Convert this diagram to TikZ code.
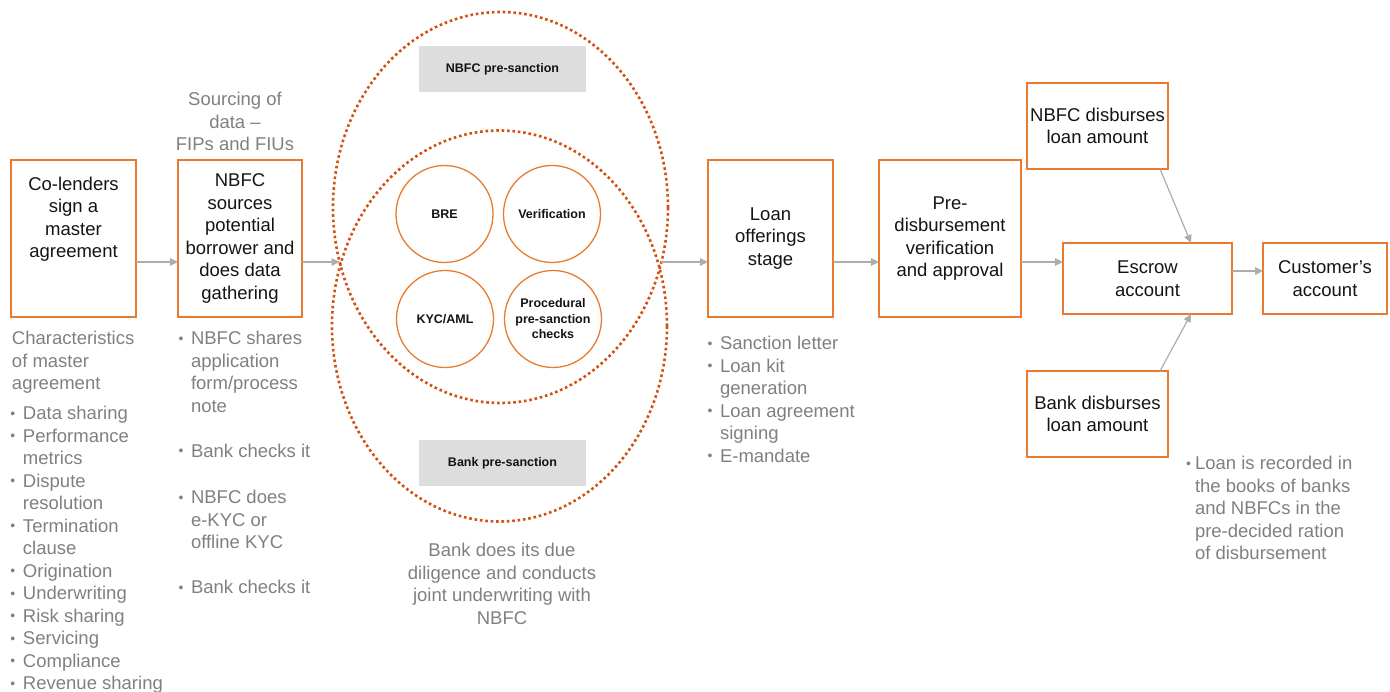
\documentclass[tikz,border=0pt]{standalone}
\usepackage{fontspec}
\setmainfont{Liberation Sans}
\usetikzlibrary{arrows.meta,shapes.geometric}
\definecolor{boxor}{RGB}{231,124,48}
\definecolor{dotor}{RGB}{212,80,16}
\definecolor{graytxt}{RGB}{128,128,128}
\definecolor{arrgray}{RGB}{172,172,172}
\definecolor{tagfill}{RGB}{221,221,221}
\definecolor{blacktxt}{RGB}{20,20,20}
\newcommand{\bl}{\makebox[11pt][l]{\hspace*{-1.5pt}\raisebox{1.5pt}{\scalebox{0.75}{\textbullet}}}}
\newcommand{\ind}{\hspace*{11pt}}
\newcommand{\fst}{\rule{0pt}{15pt}}
\newcommand{\bigf}{\fontsize{18.5pt}{22.5pt}\selectfont}
\newcommand{\smallbf}{\fontsize{12.5pt}{15.5pt}\selectfont\bfseries}
\begin{document}
\begin{tikzpicture}[x=1pt,y=-1pt,
  every node/.style={inner sep=0pt,outer sep=0pt},
  boxn/.style={draw=boxor,line width=1.4pt,rectangle,align=center,font=\bigf,text=blacktxt},
  circn/.style={draw=boxor,line width=1.3pt,circle,minimum size=97pt,align=center,font=\smallbf,text=blacktxt},
  tagn/.style={fill=tagfill,rectangle,minimum width=167pt,minimum height=46pt,font=\smallbf,text=blacktxt},
  elln/.style={draw=dotor,line width=2.6pt,dash pattern=on 2.6pt off 2.8pt,ellipse,minimum width=335pt,minimum height=391pt},
  grayn/.style={font=\bigf,text=graytxt},
  arr/.style={draw=arrgray,line width=1.2pt,-{Triangle[length=8pt,width=7.5pt]}}
]
\useasboundingbox (0,0) rectangle (1390,692);

% main boxes
\node[boxn,minimum width=125pt,minimum height=157pt] (b1) at (73.5,238.5) {};
\node[font=\bigf,text=blacktxt,align=center] (t1) at (73.5,219) {Co-lenders\\sign a\\master\\agreement};
\node[boxn,minimum width=124pt,minimum height=157pt] (b2) at (240,238.5) {NBFC\\sources\\potential\\borrower and\\does data\\gathering};
\node[boxn,minimum width=125pt,minimum height=157pt] (b3) at (770.5,238.5) {Loan\\offerings\\stage};
\node[boxn,minimum width=142pt,minimum height=157pt] (b4) at (950,238.5) {Pre-\\disbursement\\verification\\and approval};
\node[boxn,minimum width=141pt,minimum height=86pt] (b5) at (1097.5,126) {NBFC disburses\\loan amount};
\node[boxn,minimum width=141pt,minimum height=86pt] (b6) at (1097.5,414) {Bank disburses\\loan amount};
\node[boxn,minimum width=169pt,minimum height=71pt] (b7) at (1147.5,278.5) {Escrow\\account};
\node[boxn,minimum width=124pt,minimum height=71pt] (b8) at (1325,278.5) {Customer’s\\account};

% circles
\node[circn] (c1) at (444.5,214) {BRE};
\node[circn] (c2) at (552,214) {Verification};
\node[circn] (c3) at (445,319) {KYC/AML};
\node[circn] (c4) at (553,319) {Procedural\\pre-sanction\\checks};

% tags
\node[tagn] (tg1) at (502.5,69) {NBFC pre-sanction};
\node[tagn] (tg2) at (502.5,463) {Bank pre-sanction};

% dotted ellipses
\node[elln] (ellA) at (500.5,207.5) {};
\node[elln] (ellB) at (499.5,326) {};
\coordinate (eL) at ([xshift=-160.9pt,yshift=-54.5pt]ellA.center);
\coordinate (eR) at ([xshift=160.9pt,yshift=-54.5pt]ellA.center);

% gray texts
\node[grayn,align=center,anchor=north] (g1) at (235,90.7) {\fst Sourcing of\\data –\\FIPs and FIUs};
\node[grayn,align=left,anchor=north west] (g2) at (12,329.7) {\fst Characteristics\\of master\\agreement\\[7.5pt]\bl Data sharing\\\bl Performance\\\ind metrics\\\bl Dispute\\\ind resolution\\\bl Termination\\\ind clause\\\bl Origination\\\bl Underwriting\\\bl Risk sharing\\\bl Servicing\\\bl Compliance\\\bl Revenue sharing};
\node[grayn,align=left,anchor=north west] (g3) at (180,329.7) {\fst\bl NBFC shares\\\ind application\\\ind form/process\\\ind note\\[22.5pt]\bl Bank checks it\\[24pt]\bl NBFC does\\\ind e-KYC or\\\ind offline KYC\\[22.5pt]\bl Bank checks it};
\node[grayn,align=center,anchor=north] (g4) at (502,541.7) {\fst Bank does its due\\diligence and conducts\\joint underwriting with\\NBFC};
\node[grayn,align=left,anchor=north west] (g5) at (709,334.7) {\fst\bl Sanction letter\\\bl Loan kit\\\ind generation\\\bl Loan agreement\\\ind signing\\\bl E-mandate};
\node[grayn,align=left,anchor=north west] (g6) at (1186,454.7) {\fst\makebox[9pt][l]{\raisebox{1.5pt}{\scalebox{0.75}{\textbullet}}}Loan is recorded in\\\hspace*{9pt}the books of banks\\\hspace*{9pt}and NBFCs in the\\\hspace*{9pt}pre-decided ration\\\hspace*{9pt}of disbursement};

% connectors
\coordinate (ay) at (0,262);
\coordinate (cy) at (0,271);
\draw[arr] (b1.east |- ay) -- (b2.west |- ay);
\draw[arr] (b2.east |- ay) -- (eL);
\draw[arr] (eR) -- (b3.west |- ay);
\draw[arr] (b3.east |- ay) -- (b4.west |- ay);
\draw[arr] (b4.east |- ay) -- (b7.west |- ay);
\draw[arr] (b7.east |- cy) -- (b8.west |- cy);
\draw[arr] ([xshift=62.5pt]b5.south) -- ([xshift=43.5pt]b7.north);
\draw[arr] ([xshift=62.5pt]b6.north) -- ([xshift=43.5pt]b7.south);
\end{tikzpicture}
\end{document}
